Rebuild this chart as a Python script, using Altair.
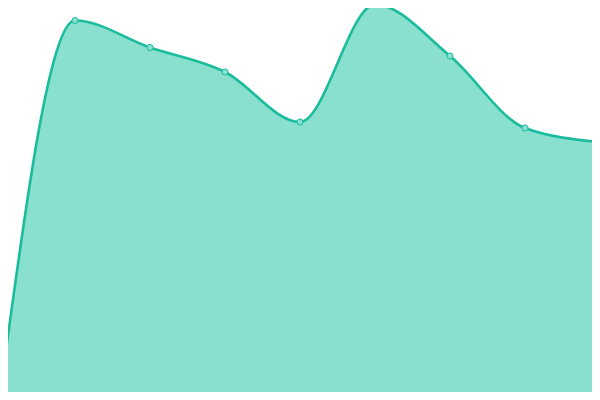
import altair as alt
import pandas as pd

# Series (hidden axes)
positions = [0, 1, 2, 3, 4, 5, 6, 7, 8]
values = [5, 379.5, 352.5, 328, 278, 395.5, 344, 272, 258]

df = pd.DataFrame({"pos": positions, "value": values})

LINE = "#1abc9c"
FILL = "#89e0cf"
INTERP = dict(interpolate="monotone")

x = alt.X("pos:Q", axis=None,
          scale=alt.Scale(domain=[8 / 75, 592 / 75], nice=False, zero=False))
y = alt.Y("value:Q", axis=None,
          scale=alt.Scale(domain=[8, 392], nice=False, zero=False))

area = alt.Chart(df).mark_area(
    color=FILL, opacity=1, clip=False, **INTERP
).encode(x=x, y=y, y2=alt.datum(0))

line = alt.Chart(df).mark_line(
    color=LINE, strokeWidth=2.6, clip=False, **INTERP
).encode(x=x, y=y)

pts = alt.Chart(df).mark_point(
    filled=True, fill=FILL, stroke=LINE, strokeWidth=1, size=38,
    opacity=1, clip=False
).encode(x=x, y=y)

chart = (area + line + pts).properties(
    width=584, height=384,
    autosize=alt.AutoSizeParams(type="none"),
    padding=0,
).configure_view(stroke=None)

chart.save("out.html", embed_options={"renderer": "svg", "actions": False})
